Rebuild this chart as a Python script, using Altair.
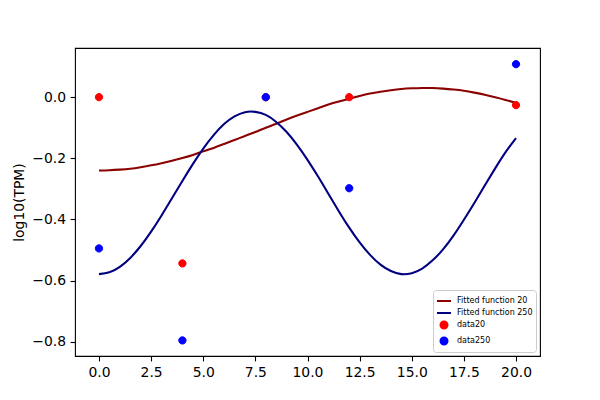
import altair as alt
import pandas as pd

# ---- data ----
time_pts = [0, 4, 8, 12, 20]
data20 = [0.0, -0.544, 0.0, 0.0, -0.026]
data250 = [-0.495, -0.796, 0.0, -0.298, 0.108]

fit_x = [0, 0.5, 1, 1.5, 2, 2.5, 3, 3.5, 4, 4.5, 5, 5.5, 6, 6.5, 7, 7.5, 8, 8.5, 9, 9.5,
         10, 10.5, 11, 11.5, 12, 12.5, 13, 13.5, 14, 14.5, 15, 15.5, 16, 16.5, 17, 17.5,
         18, 18.5, 19, 19.5, 20]
fit20 = [-0.240, -0.239, -0.237, -0.234, -0.229, -0.223, -0.216, -0.208, -0.199, -0.189,
         -0.177, -0.166, -0.153, -0.140, -0.127, -0.114, -0.100, -0.087, -0.073, -0.060,
         -0.048, -0.036, -0.024, -0.014, -0.005, 0.004, 0.012, 0.018, 0.023, 0.027,
         0.029, 0.030, 0.030, 0.028, 0.025, 0.021, 0.015, 0.008, 0.000, -0.009, -0.019]
fit250 = [-0.579, -0.573, -0.555, -0.526, -0.487, -0.440, -0.387, -0.331, -0.274, -0.219,
          -0.168, -0.124, -0.088, -0.063, -0.049, -0.048, -0.058, -0.081, -0.114, -0.156,
          -0.205, -0.259, -0.316, -0.373, -0.427, -0.475, -0.516, -0.548, -0.569, -0.579,
          -0.576, -0.561, -0.534, -0.498, -0.453, -0.401, -0.346, -0.289, -0.233, -0.180,
          -0.134]

series_names = ["Fitted function 20", "Fitted function 250", "data20", "data250"]
series_colors = ["#8b0000", "#000080", "#ff0000", "#0000ff"]
# small circle drawn inside the unit symbol box so that lines and dots share one symbol size
dot_path = "M0.5,0A0.5,0.5,0,1,1,-0.5,0A0.5,0.5,0,1,1,0.5,0Z"
series_shapes = ["stroke", "stroke", dot_path, dot_path]
x_ticks = [0, 2.5, 5, 7.5, 10, 12.5, 15, 17.5, 20]
y_ticks = [-0.8, -0.6, -0.4, -0.2, 0.0]

lines = pd.DataFrame(
    {"t": fit_x + fit_x,
     "v": fit20 + fit250,
     "series": ["Fitted function 20"] * len(fit_x) + ["Fitted function 250"] * len(fit_x)}
)
points = pd.DataFrame(
    {"t": time_pts + time_pts,
     "v": data20 + data250,
     "series": ["data20"] * len(time_pts) + ["data250"] * len(time_pts)}
)

legend = alt.Legend(
    title=None, orient="bottom-right", offset=4, padding=3,
    fillColor="white", strokeColor="#cccccc", cornerRadius=3,
    labelFont="DejaVu Sans", labelFontSize=8, labelColor="black",
    symbolSize=196, symbolStrokeWidth=2, symbolOpacity=1, rowPadding=-2, labelOffset=5,
)

col_scale = alt.Scale(domain=series_names, range=series_colors)
xenc = alt.X("t:Q", scale=alt.Scale(domain=[-1.15, 21.15], nice=False, zero=False),
             axis=alt.Axis(values=x_ticks, format=".1f", title=None))
yenc = alt.Y("v:Q", scale=alt.Scale(domain=[-0.847, 0.161], nice=False, zero=False),
             axis=alt.Axis(values=y_ticks, format=".1f", title="log10(TPM)"))

line_layer = alt.Chart(lines).mark_line(
    strokeWidth=2.08, clip=True, interpolate="natural"
).encode(
    x=xenc, y=yenc,
    stroke=alt.Stroke("series:N", scale=col_scale, legend=legend),
    detail="series:N",
)
point_layer = alt.Chart(points).mark_point(
    filled=True, opacity=1, strokeWidth=1, size=213
).encode(
    x=xenc, y=yenc,
    fill=alt.Fill("series:N", scale=col_scale, legend=legend),
    stroke=alt.Stroke("series:N", scale=col_scale, legend=legend),
    shape=alt.Shape("series:N",
                    scale=alt.Scale(domain=series_names, range=series_shapes),
                    legend=legend),
    order=alt.Order("series:N"),
)

chart = alt.layer(line_layer, point_layer).properties(
    width=465, height=308,
    autosize=alt.AutoSizeParams(type="none"),
    padding={"left": 67, "top": 40, "right": 52, "bottom": 36},
    background="white",
).configure_view(
    stroke="black", strokeWidth=1.1
).configure_axis(
    grid=False, domain=False,
    tickColor="black", tickSize=4.9, tickWidth=1.1,
    labelFont="DejaVu Sans", labelFontSize=13.9, labelColor="black", labelPadding=4.5,
    titleFont="DejaVu Sans", titleFontSize=13.9, titleFontWeight="normal",
    titleColor="black", titlePadding=5,
)

chart.save("out.html", embed_options={"renderer": "svg", "actions": False})
